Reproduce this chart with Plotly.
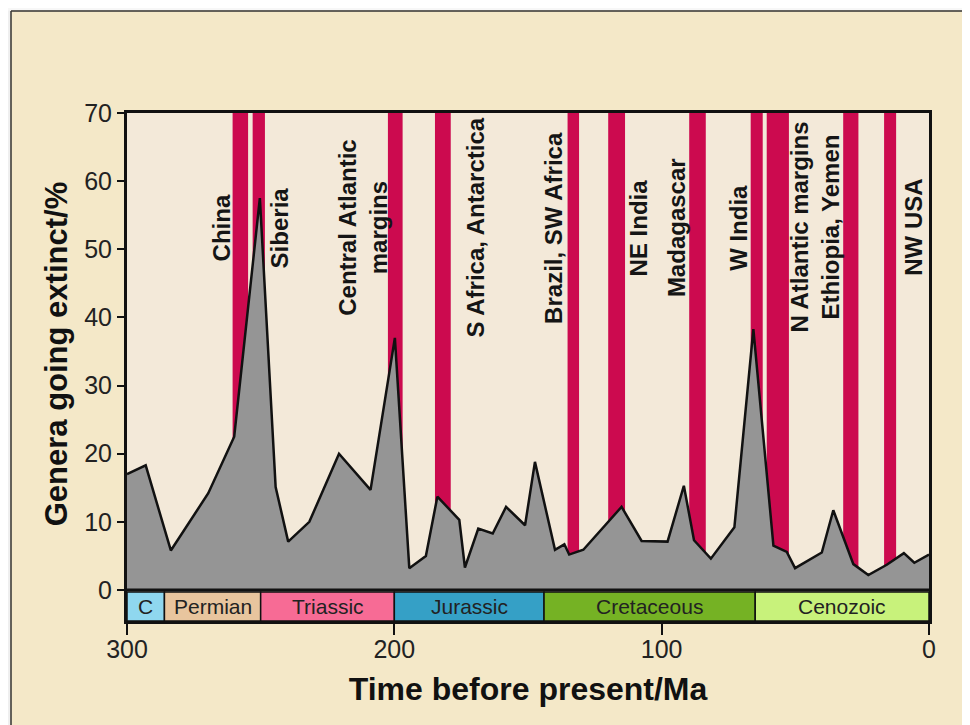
import plotly.graph_objects as go

# ---------------- data ----------------
time_ma = [300, 293.0, 283.6, 269.6, 259.9, 250.3, 244.4, 239.7, 231.8, 220.7,
           208.9, 199.8, 194.4, 188.2, 183.9, 175.7, 173.6, 168.6, 163.2, 158.2,
           151.1, 147.4, 139.9, 136.4, 134.6, 129.3, 115.0, 107.5, 97.8, 91.7,
           87.9, 81.6, 72.8, 65.7, 58.2, 53.2, 50.1, 40.1, 35.8, 28.3,
           22.7, 15.8, 9.4, 5.5, 0]
extinct_pct = [17.0, 18.3, 5.8, 14.2, 22.5, 57.5, 15.1, 7.1, 10.0, 20.0,
               14.7, 37.0, 3.2, 5.0, 13.7, 10.3, 3.3, 9.0, 8.3, 12.2,
               9.5, 18.8, 5.9, 6.7, 5.2, 5.9, 12.2, 7.2, 7.1, 15.3,
               7.3, 4.6, 9.2, 38.3, 6.5, 5.6, 3.2, 5.5, 11.7, 3.8,
               2.2, 3.7, 5.4, 4.0, 5.2]

# flood-basalt eruption intervals (start, end in Ma)
trap_start = [260.5, 253.0, 202.4, 184.8, 135.2, 120.0, 89.7, 66.7, 60.7, 32.1, 16.8]
trap_end = [254.7, 248.4, 196.9, 178.9, 130.9, 113.7, 83.5, 62.2, 52.4, 26.4, 12.3]

trap_labels = ["China", "Siberia", "Central Atlantic<br>margins", "S Africa, Antarctica",
               "Brazil, SW Africa", "NE India", "Madagascar", "W India",
               "N Atlantic margins<br>Ethiopia, Yemen", "NW USA"]
trap_label_x = [264.5, 242.8, 211.6, 169.8, 140.5, 108.5, 94.4, 71.3, 42.6, 5.9]
trap_label_y = 53.2

period_names = ["C", "Permian", "Triassic", "Jurassic", "Cretaceous", "Cenozoic"]
period_start = [300, 286, 250, 200, 144, 65]
period_end = [286, 250, 200, 144, 65, 0]
period_colors = ["#8fd7ef", "#e8c59e", "#f76b95", "#35a0c6", "#75b224", "#c8f27b"]

x_ticks = [300, 200, 100, 0]
y_ticks = [0, 10, 20, 30, 40, 50, 60, 70]

# ---------------- layout geometry ----------------
W, H = 970, 725
OFF = 8  # page body margin
L, R, T, B = 127 - OFF, 929 - OFF, 113 - OFF, 621 - OFF
Y_MIN, Y_MAX = -4.55, 70
FONT = "Liberation Sans, Arial, Helvetica, sans-serif"


def xp(px):
    px -= OFF
    return (px - L) / (R - L)


def yp(py):
    py -= OFF
    return (B - py) / (B - T)


fig = go.Figure()

# period bar
fig.add_trace(go.Bar(
    x=[(s + e) / 2 for s, e in zip(period_start, period_end)],
    width=[s - e for s, e in zip(period_start, period_end)],
    y=[-0.3 - Y_MIN] * len(period_names),
    base=[Y_MIN] * len(period_names),
    marker=dict(color=period_colors, line=dict(color="#111111", width=1.5)),
    hoverinfo="skip", showlegend=False,
))

# extinction curve
fig.add_trace(go.Scatter(
    x=time_ma, y=extinct_pct, mode="lines",
    line=dict(color="#111111", width=2.5),
    fill="tozeroy", fillcolor="#959595",
    hoverinfo="skip", showlegend=False,
))

shapes = []
# frame of the page
shapes.append(dict(type="rect", xref="paper", yref="paper",
                   x0=xp(0), x1=xp(10.5), y0=yp(0), y1=yp(740),
                   fillcolor="#efefef", line=dict(width=0), layer="above"))
shapes.append(dict(type="rect", xref="paper", yref="paper",
                   x0=xp(0), x1=xp(985), y0=yp(0), y1=yp(10.5),
                   fillcolor="#f7f7f7", line=dict(width=0), layer="above"))
shapes.append(dict(type="line", xref="paper", yref="paper",
                   x0=xp(11), x1=xp(11), y0=yp(11), y1=yp(740),
                   line=dict(color="#333333", width=1.5), layer="above"))
shapes.append(dict(type="line", xref="paper", yref="paper",
                   x0=xp(11), x1=xp(985), y0=yp(11), y1=yp(11),
                   line=dict(color="#333333", width=1.5), layer="above"))

# eruption bars
for s, e in zip(trap_start, trap_end):
    shapes.append(dict(type="rect", xref="x", yref="y", x0=s, x1=e, y0=0, y1=Y_MAX,
                       fillcolor="#cc0a4f", line=dict(width=0), layer="below"))

# zero line
shapes.append(dict(type="line", xref="paper", yref="y", x0=0, x1=1, y0=0, y1=0,
                   line=dict(color="#111111", width=3), layer="above"))

annotations = []
for lab, x in zip(trap_labels, trap_label_x):
    annotations.append(dict(x=x, y=trap_label_y, xref="x", yref="y", text="<b>" + lab + "</b>",
                            textangle=-90, showarrow=False, xanchor="center", yanchor="middle",
                            font=dict(family=FONT, size=24, color="#151515")))

for name, s, e in zip(period_names, period_start, period_end):
    annotations.append(dict(x=(s + e) / 2, y=-2.4, xref="x", yref="y", text=name,
                            showarrow=False, xanchor="center", yanchor="middle",
                            font=dict(family=FONT, size=21, color="#222222")))

fig.update_layout(
    width=W, height=H,
    margin=dict(l=L, r=W - R, t=T, b=H - B, autoexpand=False),
    paper_bgcolor="#f4e8c8",
    plot_bgcolor="#f3e9d9",
    barmode="overlay",
    shapes=shapes,
    annotations=annotations,
    showlegend=False,
    xaxis=dict(range=[300, 0], tickvals=x_ticks, ticks="outside", ticklen=11, tickwidth=2,
               tickcolor="#111111", showline=True, linecolor="#111111", linewidth=3,
               mirror=True, showgrid=False, zeroline=False, ticklabelstandoff=-7,
               tickfont=dict(family=FONT, size=25, color="#222222"),
               title=dict(text="<b>Time before present/Ma</b>", standoff=16,
                          font=dict(family=FONT, size=32, color="#111111"))),
    yaxis=dict(range=[Y_MIN, Y_MAX], tickvals=y_ticks, ticks="outside", ticklen=7, tickwidth=2,
               tickcolor="#111111", showline=True, linecolor="#111111", linewidth=3,
               mirror=True, showgrid=False, zeroline=False,
               tickfont=dict(family=FONT, size=25, color="#222222"),
               title=dict(text="&nbsp;&nbsp;&nbsp;<b>Genera going extinct/%</b>", standoff=8,
                          font=dict(family=FONT, size=31, color="#111111"))),
)

fig.write_html("out.html")
